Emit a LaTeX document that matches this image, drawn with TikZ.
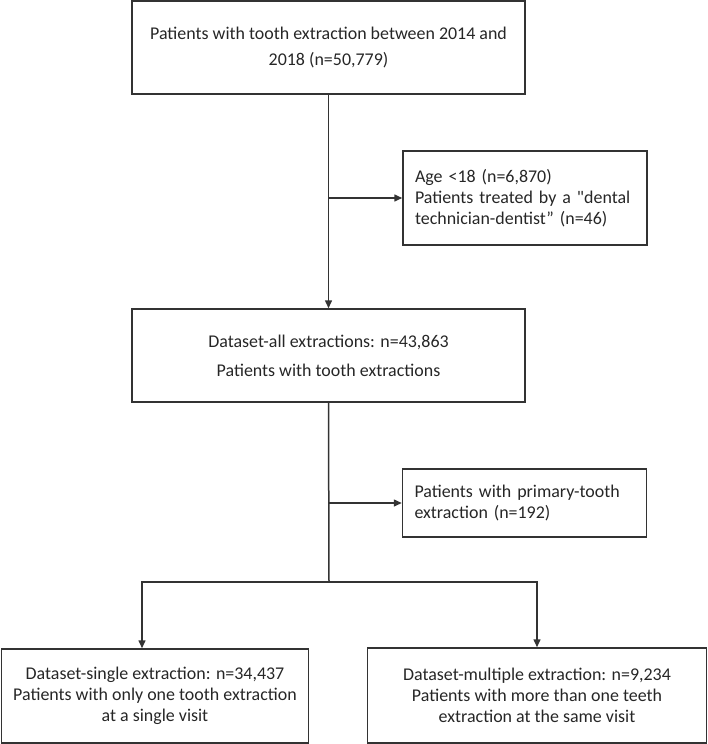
\documentclass[tikz,border=0pt]{standalone}
\usepackage{fontspec}
\setmainfont{Carlito}[Ligatures=TeXOff]
\usetikzlibrary{positioning}
\usetikzlibrary{arrows.meta}

\begin{document}
\begin{tikzpicture}[
    x=1bp, y=-1bp,
    stage/.style={
        rectangle,
        draw=black!80,
        line width=1.5bp,
        align=center,
        inner sep=0pt,
        font=\fontsize{18}{21}\selectfont,
        text=black!85,
        },
    exclusion/.style={
        stage,
        align=left,
        text width=220bp,
        inner xsep=12bp,
        minimum height=68bp,
        },
    flow/.style={
        draw=black!80,
        line width=1.5bp,
        },
    ArrowFlow/.style={
        flow,
        -{Triangle[length=8bp,width=7bp]},
        },
    ]

    \useasboundingbox (0,0) rectangle (708,744);

    \node [stage, minimum width=393bp, minimum height=93bp,
        font=\fontsize{18}{27}\selectfont] (all) at (328.5,47.5)
        {Patients with tooth extraction between 2014 and\\2018 (n=50,779)};

    \node [exclusion, minimum height=94bp] (excl1) at (525,198)
        {Age <18 (n=6,870)\\Patients treated by a "dental\\technician-dentist” (n=46)};

    \node [stage, minimum width=393bp, minimum height=93bp,
        font=\fontsize{18}{29}\selectfont] (dsall) at (328.5,355.5)
        {Dataset-all extractions: n=43,863\\Patients with tooth extractions};

    \node [exclusion] (excl2) at (524.5,503)
        {Patients with primary-tooth\\extraction (n=192)};

    \node [stage, minimum width=307bp, minimum height=94bp] (single) at (155,696)
        {Dataset-single extraction: n=34,437\\Patients with only one tooth extraction\\at a single visit};
    \node [stage, minimum width=339bp, minimum height=95bp] (multi) at (537,695.5)
        {Dataset-multiple extraction: n=9,234\\Patients with more than one teeth\\extraction at the same visit};

    \coordinate (trunk1) at (all.south |- excl1.west);
    \coordinate (trunk2) at (dsall.south |- excl2.west);
    \coordinate (split) at (329,582);
    \coordinate (splitL) at (142,582);
    \coordinate (splitR) at (multi.north |- split);

    \draw [ArrowFlow] (all.south) -- (dsall.north);
    \draw [ArrowFlow] (trunk1) -- (excl1.west);

    \draw [flow] (dsall.south) -- (split);
    \draw [ArrowFlow] (trunk2) -- (excl2.west);
    \draw [ArrowFlow] (split) -- (splitL) -- (splitL |- single.north);
    \draw [ArrowFlow] (split) -- (splitR) -- (multi.north);

\end{tikzpicture}
\end{document}
